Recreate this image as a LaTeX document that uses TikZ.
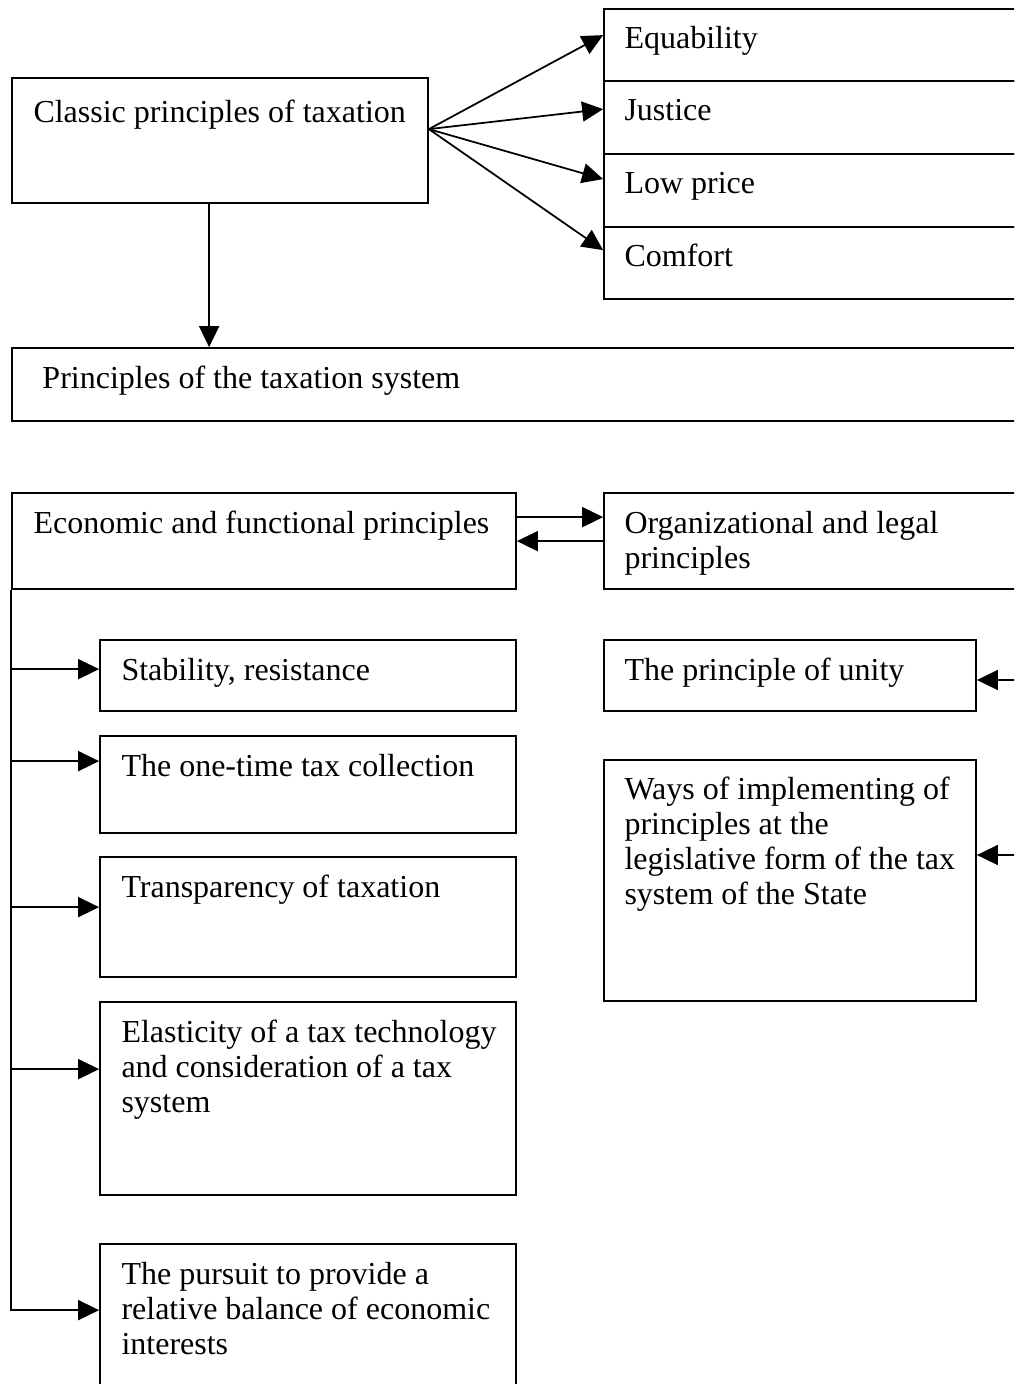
\documentclass[tikz,border=0pt]{standalone}
\usepackage{fontspec}
\setmainfont{Liberation Serif}
\usetikzlibrary{arrows.meta,fit,calc}
\newcommand\mlines[1]{\begin{tabular}[t]{@{}l@{}}#1\end{tabular}}
\begin{document}
\begin{tikzpicture}[x=0.4pt,y=-0.4pt,
  box/.style={draw, line width=0.7pt, inner sep=0pt},
  lbl/.style={anchor=base west, inner sep=0pt, font=\fontsize{12.8}{14}\selectfont},
  arr/.style={line width=0.7pt, -{Triangle[length=8.4pt,width=8pt]}},
  conn/.style={line width=0.7pt}]
\useasboundingbox (0,0) rectangle (1014,1384);
\clip (0,0) rectangle (1014,1384);
% boxes
\node[box, fit={(12,78) (428,203)}] (cl) {};
\node[box, fit={(604,9) (1030,81)}] (eq) {};
\node[box, fit={(604,81) (1030,154)}] (ju) {};
\node[box, fit={(604,154) (1030,227)}] (lp) {};
\node[box, fit={(604,227) (1030,299)}] (co) {};
\node[box, fit={(12,348) (1030,421)}] (ps) {};
\node[box, fit={(12,493) (516,589)}] (ef) {};
\node[box, fit={(604,493) (1030,589)}] (ol) {};
\node[box, fit={(100,640) (516,711)}] (st) {};
\node[box, fit={(100,736) (516,833)}] (ot) {};
\node[box, fit={(100,857) (516,977)}] (tr) {};
\node[box, fit={(100,1002) (516,1195)}] (el) {};
\node[box, fit={(100,1244) (516,1400)}] (pu) {};
\node[box, fit={(604,640) (976,711)}] (un) {};
\node[box, fit={(604,760) (976,1001)}] (wa) {};
% labels
\node[lbl] (tcl) at (33,123) {Classic principles of taxation};
\node[lbl] (teq) at (624,49) {Equability};
\node[lbl] (tju) at (624,121) {Justice};
\node[lbl] (tlp) at (624,194) {Low price};
\node[lbl] (tco) at (624,267) {Comfort};
\node[lbl] (tps) at (42,388) {Principles of the taxation system};
\node[lbl] (tef) at (33,533) {Economic and functional principles};
\node[lbl] (tol) at (624,533) {\mlines{Organizational and legal\\principles}};
\node[lbl] (tst) at (121,680) {Stability, resistance};
\node[lbl] (tot) at (121,776) {The one-time tax collection};
\node[lbl] (ttr) at (121,897) {Transparency of taxation};
\node[lbl] (tel) at (121,1042) {\mlines{Elasticity of a tax technology\\and consideration of a tax\\system}};
\node[lbl] (tpu) at (121,1284) {\mlines{The pursuit to provide a\\relative balance of economic\\interests}};
\node[lbl] (tun) at (624,680) {The principle of unity};
\node[lbl] (twa) at (624,799) {\mlines{Ways of implementing of\\principles at the\\legislative form of the tax\\system of the State}};
% connectors
\coordinate (clout) at ($(cl.north east)+(0,52)$);
\draw[arr] (clout) -- ($(eq.north west)+(0,27)$);
\draw[arr] (clout) -- ($(ju.north west)+(0,29)$);
\draw[arr] (clout) -- ($(lp.north west)+(0,26)$);
\draw[arr] (clout) -- ($(co.north west)+(0,24)$);
\draw[arr] ($(cl.south west)+(198,0)$) -- ($(ps.north west)+(198,0)$);
\draw[arr] ($(ef.north east)+(0,25)$) -- ($(ol.north west)+(0,25)$);
\draw[arr] ($(ol.north west)+(0,49)$) -- ($(ef.north east)+(0,49)$);
\draw[arr] (ef.south west) |- ($(st.north west)+(0,30)$);
\draw[arr] (ef.south west) |- ($(ot.north west)+(0,26)$);
\draw[arr] (ef.south west) |- ($(tr.north west)+(0,51)$);
\draw[arr] (ef.south west) |- ($(el.north west)+(0,68)$);
\draw[arr] (ef.south west) |- ($(pu.north west)+(0,67)$);
\coordinate (rin1) at (1030,680);
\coordinate (rin2) at (1030,855);
\draw[arr] (rin1) -- (un.east |- rin1);
\draw[arr] (rin2) -- (wa.east |- rin2);
\end{tikzpicture}
\end{document}
